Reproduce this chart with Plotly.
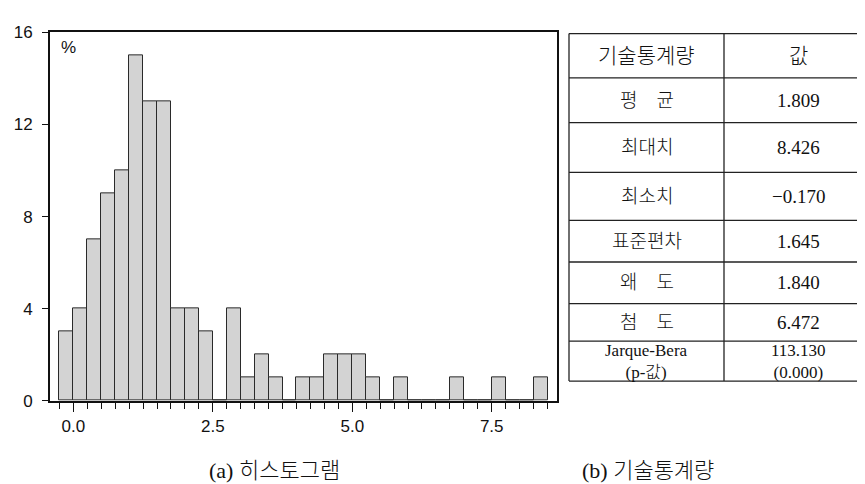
import plotly.graph_objects as go

# ---------------- data ----------------
bin_lower = [-0.25, 0.0, 0.25, 0.5, 0.75, 1.0, 1.25, 1.5, 1.75, 2.0, 2.25, 2.5,
             2.75, 3.0, 3.25, 3.5, 3.75, 4.0, 4.25, 4.5, 4.75, 5.0, 5.25, 5.5,
             5.75, 6.0, 6.25, 6.5, 6.75, 7.0, 7.25, 7.5, 7.75, 8.0, 8.25]
percent = [3, 4, 7, 9, 10, 15, 13, 13, 4, 4, 3, 0,
           4, 1, 2, 1, 0, 1, 1, 2, 2, 2, 1, 0,
           1, 0, 0, 0, 1, 0, 0, 1, 0, 0, 1]
bin_width = 0.25

x_tickvals = [0.0, 2.5, 5.0, 7.5]
x_ticktext = ["0.0", "2.5", "5.0", "7.5"]
y_tickvals = [0, 4, 8, 12, 16]
y_ticktext = ["0", "4", "8", "12", "16"]

table_header = ["기술통계량", "값"]
stat_names = ["평\u3000균", "최대치", "최소치", "표준편차", "왜\u3000도", "첨\u3000도",
              "Jarque-Bera<br>(p-값)"]
stat_values = ["1.809", "8.426", "\u22120.170", "1.645", "1.840", "6.472",
               "113.130<br>(0.000)"]

caption_a = "(a) 히스토그램"
caption_b = "(b) 기술통계량"
unit_label = "%"

# ---------------- layout geometry (pixels) ----------------
W, H = 865, 484
def px(x):
    return x / W
def py(y):
    return 1 - y / H

PLOT_L, PLOT_R, PLOT_T, PLOT_B = 42, 549, 16, 399.5
TAB_L, TAB_M, TAB_R = 561, 716, 864.5
row_lines = [17.3, 63.3, 110, 161.7, 211.7, 255, 298.3, 337.3, 379]

SANS = "Liberation Sans, Arial, sans-serif"
SERIF = "Liberation Serif, Noto Sans CJK KR, serif"

bar_x = [b + bin_width / 2 for b in bin_lower]

fig = go.Figure()
fig.add_trace(go.Bar(
    x=bar_x, y=percent, width=bin_width,
    marker=dict(color="#d3d3d3", line=dict(color="#2a2a2a", width=1)),
    hoverinfo="x+y", showlegend=False,
))

shapes = []
for y in row_lines:
    shapes.append(dict(type="line", xref="paper", yref="paper",
                       x0=px(TAB_L), x1=px(TAB_R), y0=py(y), y1=py(y),
                       line=dict(color="#222", width=1.3)))
for x in [TAB_L, TAB_M, TAB_R]:
    shapes.append(dict(type="line", xref="paper", yref="paper",
                       x0=px(x), x1=px(x), y0=py(row_lines[0]), y1=py(row_lines[-1]),
                       line=dict(color="#222", width=1.3)))

annotations = []
c1 = (TAB_L + TAB_M) / 2
c2 = (TAB_M + TAB_R) / 2
cells = [(table_header[0], table_header[1])] + list(zip(stat_names, stat_values))
n_cells = len(cells)
for i, (a, b) in enumerate(cells):
    yc = (row_lines[i] + row_lines[i + 1]) / 2
    if i == 0:
        size = 21
    elif i == n_cells - 1:
        size = 17
    else:
        size = 19
    for xc, txt in [(c1, a), (c2, b)]:
        annotations.append(dict(xref="paper", yref="paper", x=px(xc), y=py(yc),
                                text=txt, showarrow=False, xanchor="center",
                                yanchor="middle", align="center",
                                font=dict(family=SERIF, size=size, color="#111",
                                          weight=300)))

annotations.append(dict(xref="paper", yref="paper", x=px(51), y=py(32), text=unit_label,
                        showarrow=False, xanchor="left", yanchor="middle",
                        font=dict(family=SANS, size=17, color="#111")))
annotations.append(dict(xref="paper", yref="paper", x=px(266), y=py(472), text=caption_a,
                        showarrow=False, xanchor="center", yanchor="middle",
                        font=dict(family=SERIF, size=22, color="#111", weight=300)))
annotations.append(dict(xref="paper", yref="paper", x=px(640), y=py(472), text=caption_b,
                        showarrow=False, xanchor="center", yanchor="middle",
                        font=dict(family=SERIF, size=22, color="#111", weight=300)))

fig.update_layout(
    width=W, height=H,
    margin=dict(l=0, r=0, t=0, b=0),
    paper_bgcolor="white", plot_bgcolor="white",
    bargap=0,
    xaxis=dict(domain=[px(PLOT_L), px(PLOT_R)], range=[-0.418, 8.67],
               tickvals=x_tickvals, ticktext=x_ticktext,
               ticks="outside", ticklen=9, tickwidth=1, tickcolor="#111",
               minor=dict(tick0=-0.25, dtick=0.25, ticks="outside", ticklen=6,
                          tickwidth=1, tickcolor="#111", showgrid=False),
               showline=True, linewidth=2, linecolor="#111", mirror=True,
               showgrid=False, zeroline=False, fixedrange=True,
               tickfont=dict(family=SANS, size=17, color="#111")),
    yaxis=dict(domain=[py(PLOT_B), py(PLOT_T)], range=[0, 16],
               tickvals=y_tickvals, ticktext=y_ticktext,
               ticks="outside", ticklen=6, tickwidth=1, tickcolor="#111",
               ticklabelstandoff=6,
               showline=True, linewidth=2, linecolor="#111", mirror=True,
               showgrid=False, zeroline=False, fixedrange=True,
               tickfont=dict(family=SANS, size=17, color="#111")),
    shapes=shapes,
    annotations=annotations,
)

fig.write_html("out.html")
